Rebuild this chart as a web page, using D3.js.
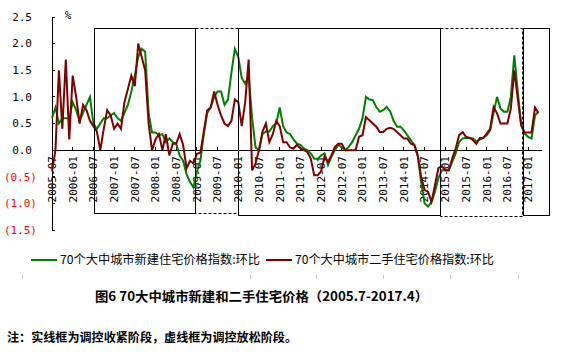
<!DOCTYPE html>
<html>
<head>
<meta charset="utf-8">
<script src="https://cdn.jsdelivr.net/npm/d3@7"></script>
<style>
  body { margin: 0; background: #fff; }
  svg { display: block; }
</style>
</head>
<body>
<div id="chart"></div>
<script>
// 70 city new / second-hand housing price index, month on month (%), 2005-07 .. 2017-04
var firstMonth = '2005-07'

var newHome = [
  0.6, 0.8, 0.5, 0.6, 0.6, 0.6, 0.9, 0.75, 0.55, 0.7, 0.85, 1.0,
  0.5, 0.4, 0.5, 0.6, 0.6, 0.65, 0.7, 0.6, 0.55, 0.7, 0.85, 1.1,
  1.4, 1.75, 1.9, 1.85, 0.7, 0.33, 0.33, 0.28, 0.3, 0.15, 0.22, 0.15,
  0.12, -0.1, -0.2, -0.45, -0.6, -0.7, -0.4, -0.2, 0.3, 0.7, 0.8, 1.0,
  1.1, 1.1, 0.85, 0.95, 1.45, 1.9, 1.75, 1.35, 1.25, 1.4, 0.6, 0.05,
  0.0, 0.3, 0.35, 0.35, 0.45, 0.5, 0.8, 0.45, 0.33, 0.3, 0.2, 0.12,
  0.1, 0.03, 0.0, -0.06, -0.16, -0.16, -0.1, -0.06, -0.28, -0.12, 0.0, 0.1,
  0.05, 0.0, 0.06, 0.15, 0.28, 0.4, 0.6, 1.0, 0.95, 0.94, 0.81, 0.72,
  0.75, 0.81, 0.73, 0.55, 0.44, 0.44, 0.37, 0.28, 0.19, 0.1, -0.1, -0.6,
  -1.0, -1.06, -0.97, -0.78, -0.53, -0.38, -0.38, -0.38, -0.22, -0.06, 0.15, 0.22,
  0.23, 0.23, 0.22, 0.16, 0.2, 0.23, 0.28, 0.37, 0.7, 1.0, 0.78, 0.72,
  0.72, 1.0, 1.78, 1.1, 0.47, 0.31, 0.25, 0.22, 0.65, 0.72
]

var usedHome = [
  -0.4, 0.0, 1.5, 0.4, 1.7, 0.2, 1.4, 1.0, 0.5, 0.85, 0.75, 0.55,
  0.45, 0.35, 0.0, 0.4, 0.75, 0.65, 0.4, 0.5, 0.4, 0.9, 1.15, 1.4,
  1.2, 2.0, 1.75, 1.5, 0.5, 0.0, 0.2, 0.3, 0.0, 0.3, -0.1, 0.12,
  0.12, 0.3, 0.1, -0.34, -0.2, -0.25, -0.07, -0.05, 0.35, 0.75, 0.8, 1.1,
  0.85, 0.65, 0.5, 0.45, 0.55, 0.95, 0.9, 0.45, 0.9, 1.7, -0.38, -0.25,
  0.0, 0.35, 0.5, 0.15, 0.3, 0.55, 0.45, 0.15, 0.15, 0.05, 0.03, 0.1,
  0.03, 0.0, -0.03, -0.16, -0.47, -0.47, -0.4, -0.12, -0.22, -0.1, 0.06, 0.12,
  0.12, 0.0, 0.0, 0.0, 0.0, 0.25, 0.28, 0.62, 0.56, 0.5, 0.44, 0.34,
  0.34, 0.4, 0.42, 0.4, 0.34, 0.28, 0.22, 0.22, 0.12, 0.1, -0.1, -0.5,
  -0.75, -0.78, -0.97, -0.66, -0.34, -0.3, -0.38, -0.38, -0.16, 0.03, 0.28, 0.34,
  0.25, 0.23, 0.19, 0.12, 0.23, 0.23, 0.31, 0.4, 0.81, 0.69, 0.5, 0.5,
  0.5, 0.78, 1.5, 0.97, 0.47, 0.33, 0.33, 0.33, 0.8, 0.7
]

var seriesNames = ['70个大中城市新建住宅价格指数:环比', '70个大中城市二手住宅价格指数:环比']
var seriesColors = ['#008000', '#800000']

var xTickLabels = [
  '2005-07', '2006-01', '2006-07', '2007-01', '2007-07', '2008-01', '2008-07', '2009-01',
  '2009-07', '2010-01', '2010-07', '2011-01', '2011-07', '2012-01', '2012-07', '2013-01',
  '2013-07', '2014-01', '2014-07', '2015-01', '2015-07', '2016-01', '2016-07', '2017-01'
]
var yTicks = [2.5, 2.0, 1.5, 1.0, 0.5, 0.0, -0.5, -1.0, -1.5]

// policy stage boxes, in month offsets from 2005-07 and in %
var boxFrom = [12.2, 41.45, 54.0, 112.55, 136.6]
var boxTo = [41.45, 54.0, 112.55, 136.3, 144.1]
var boxTop = [2.29, 2.29, 2.3, 2.29, 2.3]
var boxBottom = [-1.18, -1.18, -1.22, -1.24, -1.22]
var boxDashed = [false, true, false, true, false]

var title = '图6 70大中城市新建和二手住宅价格（2005.7-2017.4）'
var note = '注：实线框为调控收紧阶段，虚线框为调控放松阶段。'

var width = 562
var height = 353
var mono = '"DejaVu Sans Mono", monospace'
var cjk = '"Noto Sans CJK SC", sans-serif'

function monthIndex (s) {
  var a = s.split('-').map(Number)
  var b = firstMonth.split('-').map(Number)
  return (a[0] - b[0]) * 12 + (a[1] - b[1])
}

var x = d3.scaleLinear()
  .domain([0, newHome.length - 1])
  .range([52, 538.45])

var y = d3.scaleLinear()
  .domain([-1.5, 2.5])
  .range([230, 17])

var svg = d3.select('#chart')
  .append('svg')
  .attr('width', width)
  .attr('height', height)

// y axis
var yAxis = svg.append('g')
yAxis.append('line')
  .attr('x1', x(0)).attr('x2', x(0))
  .attr('y1', y(2.5)).attr('y2', y(-1.5))
  .attr('stroke', '#000')
  .attr('shape-rendering', 'crispEdges')

yAxis.selectAll('.ytick')
  .data(yTicks)
  .enter()
  .append('line')
  .attr('x1', x(0)).attr('x2', x(0) + 3)
  .attr('y1', function (d) { return y(d) })
  .attr('y2', function (d) { return y(d) })
  .attr('stroke', '#000')
  .attr('shape-rendering', 'crispEdges')

yAxis.selectAll('.ylabel')
  .data(yTicks)
  .enter()
  .append('text')
  .attr('x', function (d) { return d < 0 ? 37 : 32 })
  .attr('y', function (d) { return y(d) })
  .attr('dy', '0.35em')
  .attr('text-anchor', 'end')
  .attr('font-family', mono)
  .attr('font-size', '11px')
  .attr('fill', function (d) { return d < 0 ? '#ff0000' : '#000' })
  .text(function (d) {
    var s = d3.format('.1f')(Math.abs(d))
    return d < 0 ? '(' + s + ')' : s
  })

svg.append('text')
  .attr('x', 68)
  .attr('y', 19)
  .attr('text-anchor', 'middle')
  .attr('font-family', mono)
  .attr('font-size', '11px')
  .text('%')

// x axis on the zero line
svg.append('line')
  .attr('x1', x(0)).attr('x2', x(142))
  .attr('y1', y(0)).attr('y2', y(0))
  .attr('stroke', '#000')
  .attr('shape-rendering', 'crispEdges')

svg.selectAll('.xtick')
  .data(xTickLabels)
  .enter()
  .append('line')
  .attr('x1', function (d) { return x(monthIndex(d)) })
  .attr('x2', function (d) { return x(monthIndex(d)) })
  .attr('y1', y(0))
  .attr('y2', y(0) - 3)
  .attr('stroke', '#000')
  .attr('shape-rendering', 'crispEdges')

svg.selectAll('.xlabel')
  .data(xTickLabels)
  .enter()
  .append('text')
  .attr('transform', function (d) {
    return 'translate(' + x(monthIndex(d)) + ',' + (y(0) + 6) + ') rotate(-90)'
  })
  .attr('dy', '0.35em')
  .attr('text-anchor', 'end')
  .attr('font-family', mono)
  .attr('font-size', '11px')
  .attr('fill', '#000')
  .text(function (d) { return d })

// series lines
var line = d3.line()
  .x(function (d, i) { return x(i) })
  .y(function (d) { return y(d) })

;[newHome, usedHome].forEach(function (s, k) {
  svg.append('path')
    .datum(s)
    .attr('d', line)
    .attr('fill', 'none')
    .attr('stroke', seriesColors[k])
    .attr('stroke-width', 2)
    .attr('stroke-linejoin', 'miter')
})

// stage boxes
svg.selectAll('.box')
  .data(boxFrom)
  .enter()
  .append('rect')
  .attr('x', function (d) { return Math.round(x(d)) + 0.5 })
  .attr('y', function (d, i) { return Math.round(y(boxTop[i])) + 0.5 })
  .attr('width', function (d, i) { return Math.round(x(boxTo[i])) - Math.round(x(d)) })
  .attr('height', function (d, i) { return Math.round(y(boxBottom[i])) - Math.round(y(boxTop[i])) })
  .attr('fill', 'none')
  .attr('stroke', '#000')
  .attr('stroke-width', 1)
  .attr('stroke-dasharray', function (d, i) { return boxDashed[i] ? '3,2' : null })

// legend
var legend = svg.append('g')
var legendX = [31, 266]
var legendTextLen = [200, 199]
seriesNames.forEach(function (name, k) {
  legend.append('line')
    .attr('x1', legendX[k]).attr('x2', legendX[k] + 26)
    .attr('y1', 260).attr('y2', 260)
    .attr('stroke', seriesColors[k])
    .attr('stroke-width', 2)
  legend.append('text')
    .attr('x', legendX[k] + 29)
    .attr('y', 264)
    .attr('font-family', cjk)
    .attr('font-size', '12px')
    .attr('textLength', legendTextLen[k])
    .attr('lengthAdjust', 'spacingAndGlyphs')
    .text(name)
})

// faint stub ticks left from the hidden axis under the legend
var stubX = [22, 250, 316, 383, 450, 518]
svg.selectAll('.stub')
  .data(stubX)
  .enter()
  .append('line')
  .attr('x1', function (d) { return d + 0.5 })
  .attr('x2', function (d) { return d + 0.5 })
  .attr('y1', 275).attr('y2', 279)
  .attr('stroke', '#c8c8c8')

svg.append('text')
  .attr('x', 95)
  .attr('y', 301)
  .attr('font-family', cjk)
  .attr('font-size', '13px')
  .attr('font-weight', 'bold')
  .attr('textLength', 333)
  .attr('lengthAdjust', 'spacingAndGlyphs')
  .text(title)

svg.append('text')
  .attr('x', 7)
  .attr('y', 342)
  .attr('font-family', cjk)
  .attr('font-size', '12px')
  .attr('font-weight', 'bold')
  .attr('textLength', 290)
  .attr('lengthAdjust', 'spacingAndGlyphs')
  .text(note)
</script>
</body>
</html>
